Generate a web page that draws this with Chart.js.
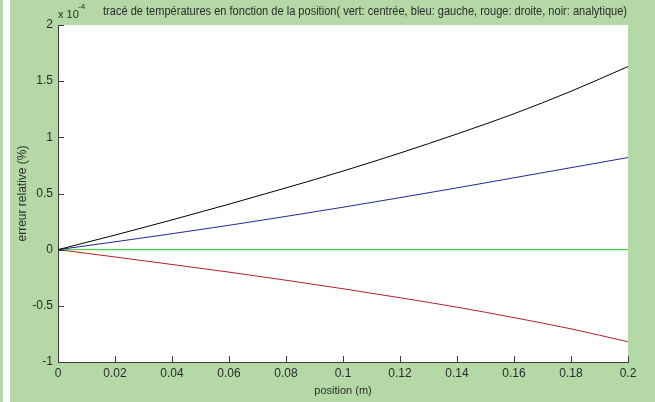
<!DOCTYPE html>
<html>
<head>
<meta charset="utf-8">
<script src="https://cdn.jsdelivr.net/npm/chart.js@4.4.1/dist/chart.umd.min.js"></script>
<style>
  html, body { margin: 0; padding: 0; background: #b4d9a6; }
  #zone { width: 655px; height: 402px; }
</style>
</head>
<body>
<div id="zone"><canvas id="graficoErreur" width="655" height="402"></canvas></div>
<script>
// ---------- DONNÉES ----------

var positions = [0, 0.02, 0.04, 0.06, 0.08, 0.1, 0.12, 0.14, 0.16, 0.18, 0.2];
var erreurCentree = [0, 0, 0, 0, 0, 0, 0, 0, 0, 0, 0];
var erreurGauche = [0, 0.07, 0.142, 0.217, 0.296, 0.378, 0.463, 0.55, 0.64, 0.73, 0.82];
var erreurDroite = [0, -0.065, -0.132, -0.2, -0.272, -0.348, -0.428, -0.512, -0.605, -0.705, -0.82];
var erreurAnalytique = [0, 0.13, 0.265, 0.405, 0.55, 0.7, 0.86, 1.03, 1.21, 1.41, 1.63];

var ticksX = [0, 0.02, 0.04, 0.06, 0.08, 0.1, 0.12, 0.14, 0.16, 0.18, 0.2];
var labelsX = ["0", "0.02", "0.04", "0.06", "0.08", "0.1", "0.12", "0.14", "0.16", "0.18", "0.2"];
var ticksY = [-1, -0.5, 0, 0.5, 1, 1.5, 2];
var labelsY = ["-1", "-0.5", "0", "0.5", "1", "1.5", "2"];

var titre = "tracé de températures en fonction de la position( vert: centrée, bleu: gauche, rouge: droite, noir: analytique)";
var exposant = "-4";

var POLICE = "'Liberation Sans', Arial, sans-serif";
var COULEUR_TEXTE = "#2b2b2b";

function versPoints(valeurs) {
  var pts = [];
  for (var i = 0; i < positions.length; i++) {
    pts.push({ x: positions[i], y: valeurs[i] });
  }
  return pts;
}

function serie(nom, valeurs, couleur) {
  return {
    label: nom,
    data: versPoints(valeurs),
    borderColor: couleur,
    borderWidth: 1,
    pointRadius: 0,
    cubicInterpolationMode: "monotone",
    fill: false
  };
}

// ---------- DÉCOR (fond, titre, graduations vers l'intérieur) ----------

var decor = {
  id: "decor",
  beforeDraw: function (chart) {
    var ctx = chart.ctx;
    var zone = chart.chartArea;
    ctx.save();
    ctx.fillStyle = "#b4d9a6";
    ctx.fillRect(0, 0, chart.width, chart.height);
    ctx.fillStyle = "#ffffff";
    ctx.fillRect(3, 0, 7, chart.height);
    ctx.fillRect(zone.left, zone.top, zone.right - zone.left, zone.bottom - zone.top);
    ctx.restore();
  },
  afterDraw: function (chart) {
    var ctx = chart.ctx;
    var zone = chart.chartArea;
    var sx = chart.scales.x;
    var sy = chart.scales.y;
    ctx.save();
    ctx.strokeStyle = "#3a3a3a";
    ctx.lineWidth = 1;
    ctx.beginPath();
    for (var i = 0; i < ticksX.length; i++) {
      var px = Math.round(sx.getPixelForValue(ticksX[i])) + 0.5;
      ctx.moveTo(px, zone.bottom);
      ctx.lineTo(px, zone.bottom - 6);
    }
    for (var j = 0; j < ticksY.length; j++) {
      var py = Math.round(sy.getPixelForValue(ticksY[j])) + 0.5;
      ctx.moveTo(zone.left, py);
      ctx.lineTo(zone.left + 6, py);
    }
    ctx.stroke();

    ctx.fillStyle = COULEUR_TEXTE;
    ctx.textBaseline = "middle";
    ctx.textAlign = "left";
    ctx.font = "12px " + POLICE;
    // le titre matlab est étroit : on le tasse sur la largeur d'origine
    ctx.fillText(titre, 103, 12, 524);
    ctx.font = "11px " + POLICE;
    ctx.fillText("x 10", zone.left, 15);
    ctx.font = "8px " + POLICE;
    ctx.fillText(exposant, zone.left + 20, 7);
    ctx.restore();
  }
};

// ---------- GRAPHIQUE ----------

var ctx = document.getElementById("graficoErreur");

var graphique = new Chart(ctx, {
  type: "line",
  data: {
    datasets: [
      serie("analytique", erreurAnalytique, "#000000"),
      serie("gauche", erreurGauche, "#1f2a90"),
      serie("centrée", erreurCentree, "#22d022"),
      serie("droite", erreurDroite, "#b2222a")
    ]
  },
  options: {
    responsive: false,
    animation: false,
    layout: { padding: { left: 0, top: 25, right: 27, bottom: 0 } },
    plugins: {
      legend: { display: false },
      tooltip: { enabled: false }
    },
    scales: {
      x: {
        type: "linear",
        min: 0,
        max: 0.2,
        afterFit: function (scale) { scale.height = 40; },
        afterBuildTicks: function (scale) {
          scale.ticks = ticksX.map(function (v) { return { value: v }; });
        },
        ticks: {
          autoSkip: false,
          maxRotation: 0,
          padding: 4,
          color: COULEUR_TEXTE,
          font: { family: POLICE, size: 12 },
          callback: function (v, i) { return labelsX[i]; }
        },
        grid: { display: false, drawTicks: false },
        border: { display: true, color: "#3a3a3a", width: 1 },
        title: {
          display: true,
          text: "position (m)",
          color: COULEUR_TEXTE,
          font: { family: POLICE, size: 11 },
          padding: { top: 0, bottom: 4 }
        }
      },
      y: {
        type: "linear",
        min: -1,
        max: 2,
        afterFit: function (scale) { scale.width = 58; },
        afterBuildTicks: function (scale) {
          scale.ticks = ticksY.map(function (v) { return { value: v }; });
        },
        ticks: {
          autoSkip: false,
          padding: 5,
          color: COULEUR_TEXTE,
          font: { family: POLICE, size: 12 },
          callback: function (v, i) { return labelsY[i]; }
        },
        grid: { display: false, drawTicks: false },
        border: { display: true, color: "#3a3a3a", width: 1 },
        title: {
          display: true,
          text: "erreur relative (%)",
          color: COULEUR_TEXTE,
          font: { family: POLICE, size: 12 },
          padding: { top: 15, bottom: 0 }
        }
      }
    }
  },
  plugins: [decor]
});
</script>
</body>
</html>
